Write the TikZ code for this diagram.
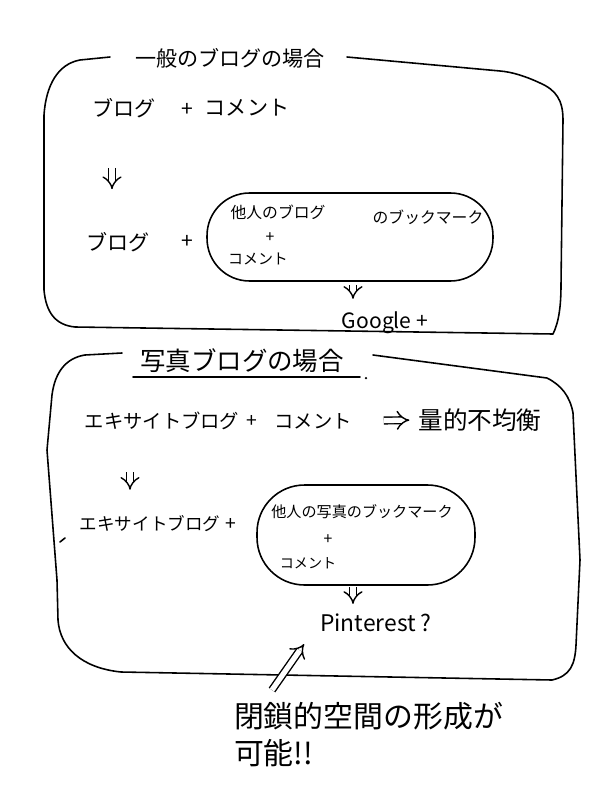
\documentclass[tikz,border=0pt]{standalone}
\usepackage{fontspec}
\setmainfont{Noto Sans CJK JP}
\usetikzlibrary{arrows.meta,calc}

\newcommand{\fsz}[1]{\fontsize{#1}{#1}\selectfont}

\tikzset{
  pen/.style={line width=0.9pt, line cap=round, line join=round},
  imp/.style={double, double distance=3pt, line width=0.8pt, -{Implies}},
  blob/.style={draw, pen, inner sep=0pt},
  txt/.style={inner sep=1pt, font=\fsz{12}},
  small/.style={inner sep=1pt, font=\fsz{9}},
}

\begin{document}
\begin{tikzpicture}[x=0.02cm, y=-0.02cm]
\useasboundingbox (0,0) rectangle (600,794);

% box 1
\draw [pen] (110,57) -- (80,60) .. controls (58,64) and (46,85) .. (44,115) -- (44,290)
  .. controls (46,312) and (55,325) .. (75,327) -- (553,334)
  .. controls (559,322) and (561,305) .. (561,285) -- (563,120)
  .. controls (563,100) and (556,90) .. (540,83) .. controls (525,76) and (512,72) .. (500,71) -- (347,57);
\node [txt] (t1) at (230,58) {一般のブログの場合};

\node [txt] (b1) at (124,108) {ブログ};
\node [txt] (p1) at (187,110) {+};
\node [txt] (c1) at (247,108) {コメント};

\node [txt] (b2) at (118,242) {ブログ};
\node [txt] (p2) at (187,242) {+};
\node [blob, minimum width=5.72cm, minimum height=1.76cm, rounded corners=0.85cm] (e1) at (350,237) {};
\node [small] (o1) at (278,212) {他人のブログ};
\node [small] (o1p) at (270,238) {+};
\node [small, font=\fsz{8.5}] (o1c) at (258,259) {コメント};
\node [small] (bm1) at (428,217) {のブックマーク};
\node [txt] (g) at (385,323) {Google +};

\draw [imp, shorten <=0.96cm, shorten >=0.82cm] ($(b1.south)+(-12,0)$) -- ($(b2.north)+(-6,0)$);
\draw [imp, shorten <=0.06cm, shorten >=0.22cm] ($(e1.south)+(3,0)$) -- ($(g.north)+(-32,0)$);

% box 2
\draw [pen] (122,353) -- (85,355) .. controls (66,358) and (55,372) .. (52,395) -- (47,450)
  -- (57,580) -- (58,620) .. controls (60,648) and (82,668) .. (121,672) -- (552,680)
  .. controls (570,676) and (575,665) .. (576,645) -- (580,560) -- (573,413)
  .. controls (570,396) and (561,385) .. (547,378) -- (373,355);
\draw [pen] (60,542) -- (65,538);
\node [txt, font=\fsz{14.5}] (t2) at (242,361) {写真ブログの場合};
\draw [pen] ($(t2.south west)+(-5,2)$) -- ($(t2.south east)+(14,2)$);
\fill ($(t2.south east)+(20,3)$) circle (1.3);

\node [txt, font=\fsz{11}] (x1) at (162,421) {エキサイトブログ};
\node [txt, font=\fsz{11}] (p3) at (252,421) {+};
\node [txt, font=\fsz{11}] (c3) at (313,421) {コメント};
\node [txt, font=\fsz{14}] (q) at (480,420) {量的不均衡};
\draw [imp, shorten <=0.6cm, shorten >=0.14cm] (c3.east) -- (q.west);

\node [txt, font=\fsz{10}] (x2) at (150,524) {エキサイトブログ};
\node [txt, font=\fsz{11}] (p4) at (231,524) {+};
\node [blob, minimum width=4.36cm, minimum height=2cm, rounded corners=0.95cm] (e2) at (366,535) {};
\node [small, font=\fsz{8.6}] (o2) at (362,512) {他人の写真のブックマーク};
\node [small] (o2p) at (328,540) {+};
\node [small, font=\fsz{8}] (o2c) at (308,563) {コメント};
\node [txt, font=\fsz{13}] (pin) at (376,623) {Pinterest ?};

\draw [imp, shorten <=0.8cm, shorten >=0.48cm] ($(x1.south)+(-32,0)$) -- ($(x2.north)+(-20,0)$);
\draw [imp, shorten <=0.02cm, shorten >=0.16cm] ($(e2.south)+(-13,0)$) -- ($(pin.north)+(-23,0)$);

\node [txt, font=\fsz{17}, align=left, anchor=north west] (note) at (232,700)
  {閉鎖的空間の形成が\\[4pt]可能!!};
\draw [imp] ($(note.north west)+(40,-10)$) -- ($(pin.south west)+(-14,10)$);

\end{tikzpicture}
\end{document}
